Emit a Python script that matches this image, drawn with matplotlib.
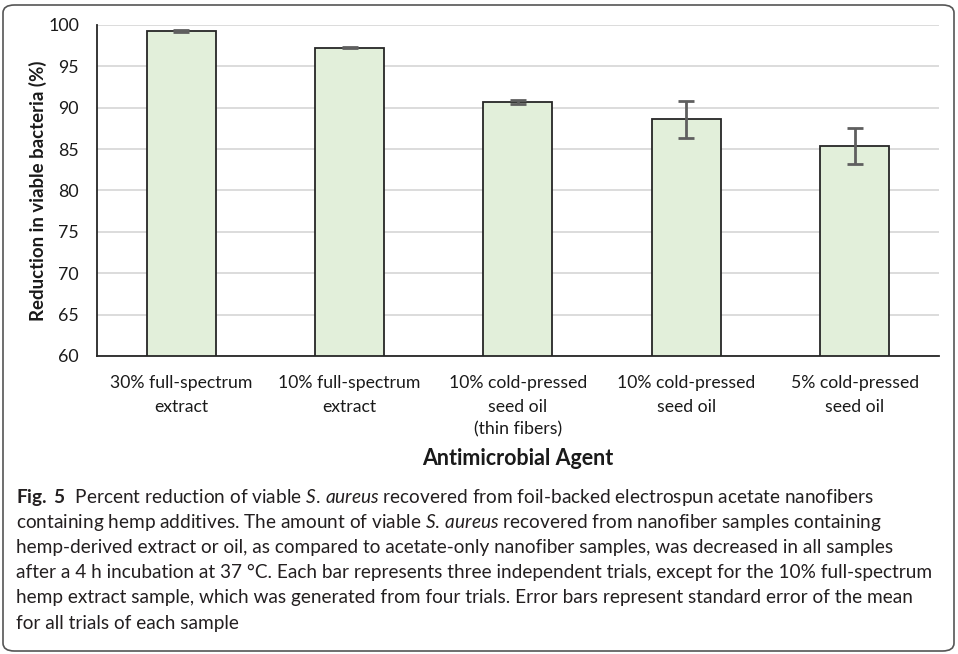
import numpy as np
import matplotlib
matplotlib.use('Agg')
import matplotlib.pyplot as plt
from matplotlib.patches import FancyBboxPatch

plt.rcParams['font.family'] = ['Lato', 'DejaVu Sans']
plt.rcParams['mathtext.fontset'] = 'custom'
plt.rcParams['mathtext.rm'] = 'Lato'
plt.rcParams['mathtext.it'] = 'Lato:italic'
plt.rcParams['mathtext.bf'] = 'Lato:bold'

# DATA
agents = ['30% full-spectrum\nextract',
          '10% full-spectrum\nextract',
          '10% cold-pressed\nseed oil\n(thin fibers)',
          '10% cold-pressed\nseed oil',
          '5% cold-pressed\nseed oil']
reduction = [99.3, 97.25, 90.7, 88.6, 85.4]
sem = [0.15, 0.06, 0.25, 2.25, 2.2]
yticks = [60, 65, 70, 75, 80, 85, 90, 95, 100]

caption_lines = [
    r'$\mathbf{Fig.}$ $\mathbf{5}$  Percent reduction of viable $\mathit{S.}$$\,$$\mathit{aureus}$ recovered from foil-backed electrospun acetate nanofibers',
    r'containing hemp additives. The amount of viable $\mathit{S.}$$\,$$\mathit{aureus}$ recovered from nanofiber samples containing',
    'hemp-derived extract or oil, as compared to acetate-only nanofiber samples, was decreased in all samples',
    'after a 4 h incubation at 37 °C. Each bar represents three independent trials, except for the 10% full-spectrum',
    'hemp extract sample, which was generated from four trials. Error bars represent standard error of the mean',
    'for all trials of each sample',
]

fig = plt.figure(figsize=(9.58, 6.54), dpi=100)
ax = fig.add_axes([0.1013, 0.4557, 0.8787, 0.5061])

x = np.arange(len(agents))
ax.bar(x, reduction, width=0.41, color='#E2EFDA', edgecolor='#262626', linewidth=1.3, zorder=2)
ax.errorbar(x, reduction, yerr=sem, fmt='none', ecolor='#5f5f5f', elinewidth=2,
            capsize=6, capthick=2, zorder=3)

ax.set_ylim(60, 100)
ax.set_xlim(-0.5, len(agents) - 0.5)
ax.set_yticks(yticks)
ax.set_xticks(x)
ax.set_xticklabels(agents, fontsize=12.7, linespacing=1.55)
ax.tick_params(axis='both', length=0, colors='#1a1a1a')
ax.tick_params(axis='y', pad=13, labelsize=12.8)
ax.tick_params(axis='x', pad=14)
ax.grid(axis='y', color='#D9D9D9', linewidth=1.3, zorder=0)
ax.set_axisbelow(True)
for s in ['top', 'right']:
    ax.spines[s].set_visible(False)
for s in ['left', 'bottom']:
    ax.spines[s].set_color('#262626')
    ax.spines[s].set_linewidth(1.3)

ax.set_ylabel('Reduction in viable bacteria (%)', fontsize=13.4, fontweight='bold',
              color='#1a1a1a', labelpad=1)
ax.set_xlabel('Antimicrobial Agent', fontsize=15.5, fontweight='bold', color='#1a1a1a',
              labelpad=7)

# caption
y0 = 1 - 497 / 654
for i, line in enumerate(caption_lines):
    fig.text(16 / 958, y0 - i * 25.2 / 654, line, fontsize=13.7, color='#231f20',
             va='center', ha='left')

box = FancyBboxPatch((3 / 958, 3 / 654), 951 / 958, 646 / 654,
                     boxstyle='round,pad=0,rounding_size=0.012',
                     transform=fig.transFigure, fill=False,
                     edgecolor='#555555', linewidth=1.2)
fig.patches.append(box)

fig.savefig('out.png', dpi=100)
